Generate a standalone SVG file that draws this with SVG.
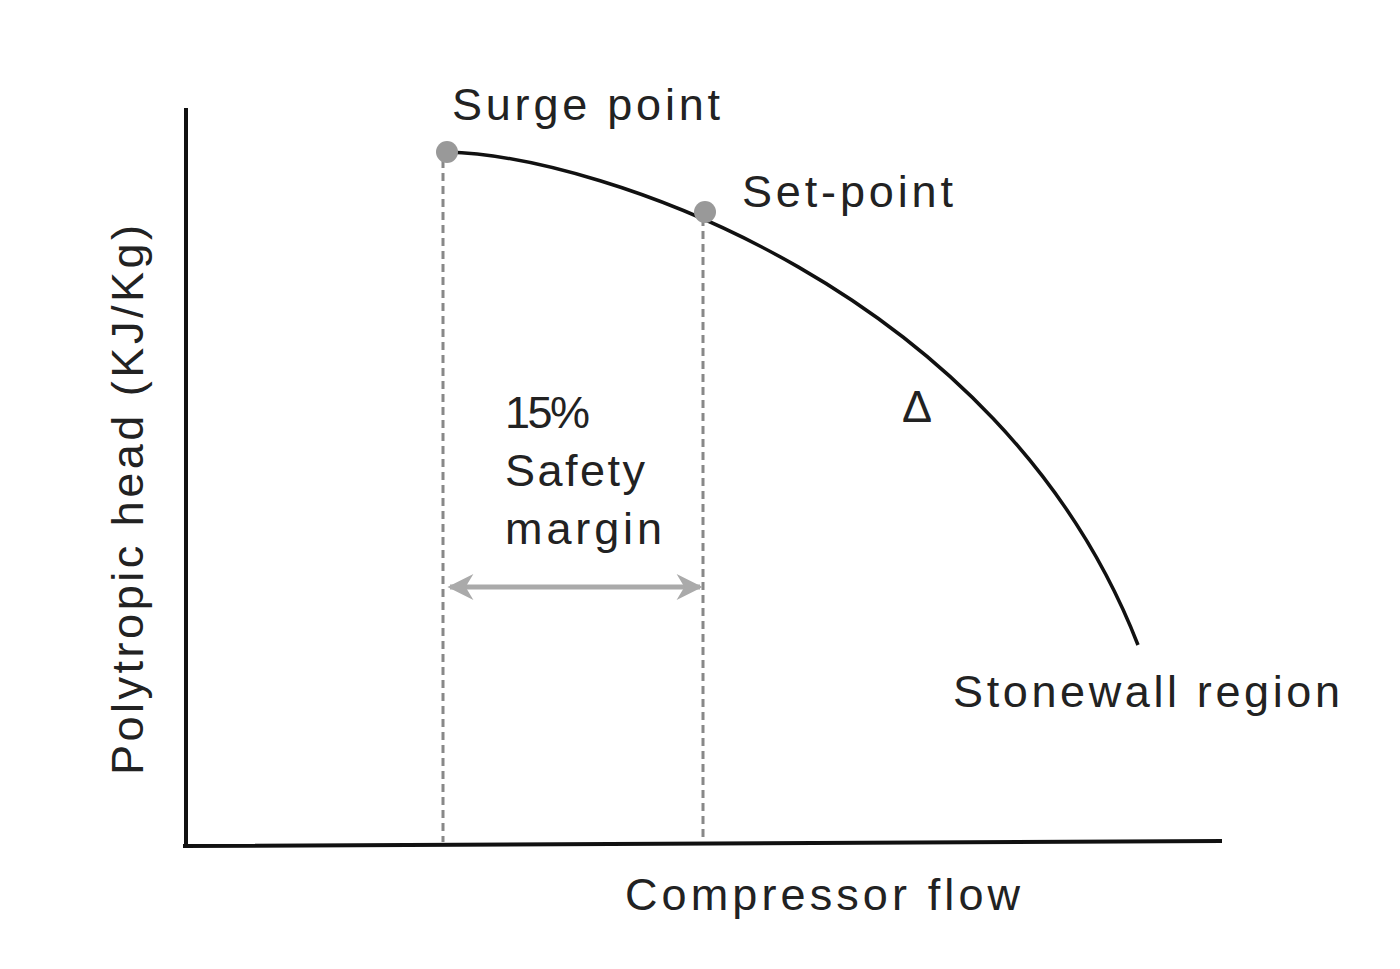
<svg xmlns="http://www.w3.org/2000/svg" width="1400" height="969" viewBox="0 0 1400 969">
<style>
text{font-family:"Liberation Sans",Arial,sans-serif;fill:#222;font-size:45px}
.ax{stroke:#111;stroke-width:4;fill:none}
.dash{stroke:#888;stroke-width:3;stroke-dasharray:8,5;fill:none}
</style>
<defs>
<marker id="ah" viewBox="0 0 10 10" refX="9" refY="5" markerWidth="28" markerHeight="26" markerUnits="userSpaceOnUse" orient="auto-start-reverse"><path d="M0,0L10,5L0,10L3,5z" fill="#aaa"/></marker>
</defs>
<rect width="1400" height="969" fill="#fff"/>
<g id="axes">
<path class="ax" d="M186,108V845M183,846L1222,841"/>
</g>
<g id="connectors">
<path class="dash" d="M443,160V842M703,218V842"/>
<path d="M450,587H700" stroke="#aaa" stroke-width="5" marker-start="url(#ah)" marker-end="url(#ah)"/>
<path d="M447,152C600,156 1000,290 1138,645" stroke="#111" stroke-width="3.5" fill="none"/>
</g>
<g id="surge"><circle cx="447" cy="152" r="11" fill="#999"/><text x="452" y="120" textLength="268">Surge point</text></g>
<g id="setpoint"><circle cx="705" cy="212" r="11" fill="#999"/><text x="742" y="207" textLength="211">Set-point</text></g>
<g id="margin"><text x="505" y="428" textLength="85">15%</text><text x="505" y="486" textLength="140">Safety</text><text x="505" y="544" textLength="157">margin</text></g>
<text x="902" y="422" font-size="34">Δ</text>
<text x="953" y="707" textLength="387">Stonewall region</text>
<text x="625" y="910" textLength="395">Compressor flow</text>
<text transform="translate(143,500) rotate(-90)" text-anchor="middle" textLength="550">Polytropic head (KJ/Kg)</text>
</svg>
